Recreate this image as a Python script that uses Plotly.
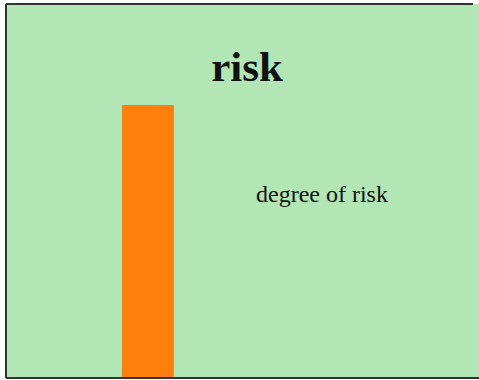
import plotly.graph_objects as go

# Data
categories = ["risk"]
positions = [0]
values = [0.73]
series_name = "degree of risk"

FIG_W, FIG_H = 479, 380
M_L, M_R, M_T, M_B = 6, 0, 4, 2
plot_w = FIG_W - M_L - M_R
plot_h = FIG_H - M_T - M_B


def px_x(px):
    return (px - M_L) / plot_w


def px_y(py):
    return (FIG_H - M_B - py) / plot_h


fig = go.Figure()
fig.add_trace(go.Bar(
    x=positions,
    y=values,
    width=1,
    name=series_name,
    marker=dict(color="#ff7f0e", line=dict(width=0)),
    showlegend=False,
))

frame = dict(color="#333", width=2)
fig.update_layout(
    width=FIG_W,
    height=FIG_H,
    margin=dict(l=M_L, r=M_R, t=M_T, b=M_B),
    paper_bgcolor="white",
    plot_bgcolor="#b3e6b5",
    font=dict(family="Liberation Serif, Times New Roman, serif", color="#111"),
    title=dict(
        text="<b>" + categories[0] + "</b>",
        x=px_x(247), xref="paper", xanchor="center",
        y=1 - 66 / FIG_H, yref="container", yanchor="middle",
        font=dict(size=43, color="#111"),
    ),
    xaxis=dict(range=[-2.73, 6.37], showticklabels=False, ticks="",
               showgrid=False, zeroline=False, showline=False),
    yaxis=dict(range=[0, 1], showticklabels=False, ticks="", showgrid=False,
               zeroline=False, showline=False),
    shapes=[
        dict(type="line", xref="paper", yref="paper", x0=0, x1=0, y0=0, y1=1, line=frame),
        dict(type="line", xref="paper", yref="paper", x0=0, x1=px_x(473), y0=1, y1=1, line=frame),
        dict(type="line", xref="paper", yref="paper", x0=0, x1=1, y0=0, y1=0, line=frame),
    ],
    annotations=[dict(
        text=series_name,
        x=px_x(322), y=px_y(194),
        xref="paper", yref="paper",
        showarrow=False, xanchor="center", yanchor="middle",
        font=dict(size=24, color="#111"),
    )],
)

fig.write_html("out.html")
